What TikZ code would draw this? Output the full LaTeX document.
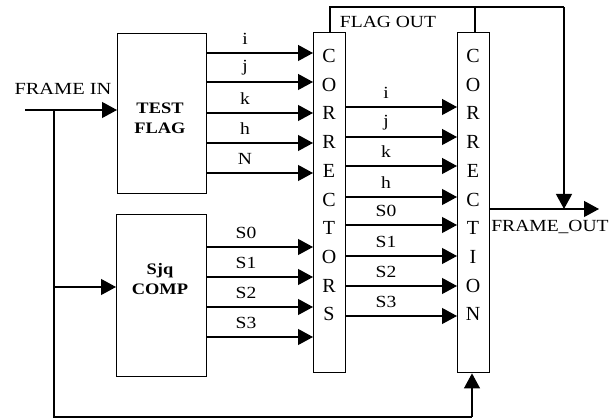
\documentclass[tikz,border=0pt]{standalone}
\usepackage{fontspec}
\usepackage{graphicx}
\setmainfont{Liberation Serif}
\usetikzlibrary{arrows.meta}
\newcommand{\widetxt}[1]{\scalebox{1.15}[1]{#1}}
\begin{document}
\begin{tikzpicture}[x=1pt,y=-1pt,
  blk/.style={draw,line width=1.4pt,inner sep=0pt,anchor=north west},
  arr/.style={line width=1.2pt,-{Triangle[length=15pt,width=16pt]}},
  ln/.style={line width=1.2pt},
  lab/.style={font=\fontsize{17}{17}\selectfont,inner sep=0pt},
  txt/.style={font=\fontsize{17}{17}\selectfont,inner sep=0pt},
  big/.style={font=\fontsize{20}{20}\selectfont,inner sep=0pt},
  btxt/.style={font=\bfseries\fontsize{16}{20}\selectfont,align=center,inner sep=0pt}]
\useasboundingbox (0,0) rectangle (613,419);
% blocks
\node[blk,minimum width=89pt,minimum height=160pt] (tf) at (117,33) {};
\node[blk,minimum width=90pt,minimum height=162pt] (sc) at (116,214) {};
\node[blk,minimum width=32pt,minimum height=340pt] (cs) at (313,32) {};
\node[blk,minimum width=32pt,minimum height=340pt] (cn) at (457,32) {};
\node[btxt] (tft) at (160,118) {\widetxt{TEST}\\\widetxt{FLAG}};
\node[btxt] (sct) at (160,279) {\widetxt{Sjq}\\\widetxt{COMP}};
\foreach \l [count=\n from 0] in {C,O,R,R,E,C,T,O,R,S}
  \node[big] (csl\n) at (329,56+28.7*\n) {\l};
\foreach \l [count=\n from 0] in {C,O,R,R,E,C,T,I,O,N}
  \node[big] (cnl\n) at (473,56+28.7*\n) {\l};
% inputs
\coordinate (fin) at (25,110);
\coordinate (jn) at (54,110);
\coordinate (bl) at (54,417);
\coordinate (br) at (472,417);
\node[txt] (finl) at (63,89) {\scalebox{1.2}[1]{FRAME IN}};
\draw[arr] (fin) -- (tf.west |- fin);
\draw[ln] (jn) -- (bl) -- (br);
\draw[arr] (br) -- (cn.south -| br);
\draw[arr] (54,287) -- (sc.west |- 0,287);
% test flag outputs
\foreach \y/\t in {53/i,82/j,113/k,143/h,173/N}{
  \draw[arr] (tf.east |- 0,\y) -- (cs.west |- 0,\y);
  \node[lab] at (245,\y-14) {\widetxt{\t}};}
\foreach \y/\t in {247/S0,277/S1,307/S2,337/S3}{
  \draw[arr] (sc.east |- 0,\y) -- (cs.west |- 0,\y);
  \node[lab] at (246,\y-14) {\widetxt{\t}};}
% correctors -> correction
\foreach \y/\t in {107/i,137/j,166/k,197/h,225/S0,256/S1,286/S2,316/S3}{
  \draw[arr] (cs.east |- 0,\y) -- (cn.west |- 0,\y);
  \node[lab] at (386,\y-14) {\widetxt{\t}};}
% flag out
\coordinate (f1) at (330,7);
\coordinate (f2) at (475,7);
\coordinate (f3) at (564,7);
\coordinate (fo) at (564,209);
\draw[ln] (cs.north -| f1) -- (f1) -- (f3);
\draw[ln] (cn.north -| f2) -- (f2);
\draw[arr] (f3) -- (fo);
\node[txt] (flo) at (388,22) {\widetxt{FLAG OUT}};
% frame out
\coordinate (fout) at (599,209);
\draw[arr] (cn.east |- fout) -- (fout);
\node[txt] (fol) at (550,227) {\widetxt{FRAME\_OUT}};
\end{tikzpicture}
\end{document}
